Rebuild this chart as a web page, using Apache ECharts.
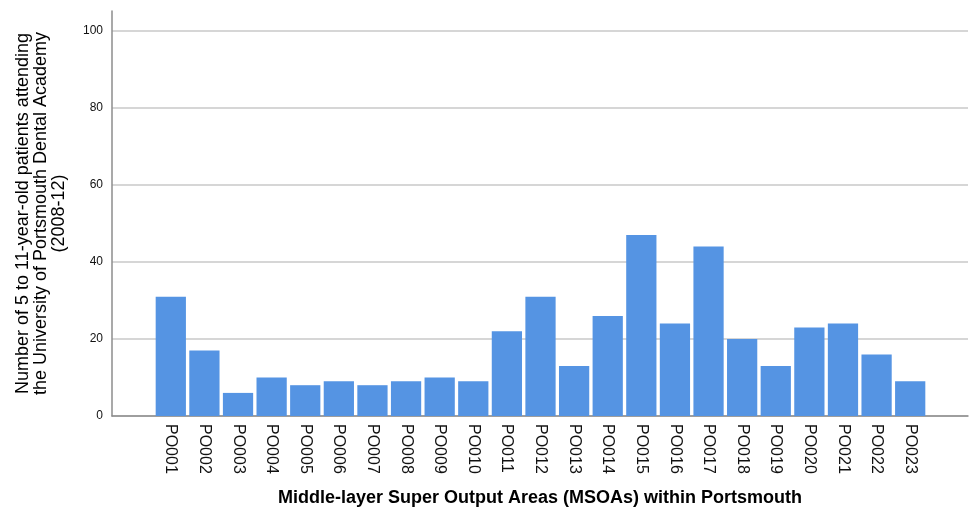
<!DOCTYPE html>
<html>
<head>
<meta charset="utf-8">
<script src="https://cdn.jsdelivr.net/npm/echarts@6/dist/echarts.min.js"></script>
<style>
  html, body { margin: 0; padding: 0; background: #fff; }
  #chart { width: 972px; height: 509px; }
</style>
</head>
<body>
<div id="chart"></div>
<script>
const categories = ['PO001', 'PO002', 'PO003', 'PO004', 'PO005', 'PO006', 'PO007', 'PO008',
  'PO009', 'PO010', 'PO011', 'PO012', 'PO013', 'PO014', 'PO015', 'PO016', 'PO017', 'PO018',
  'PO019', 'PO020', 'PO021', 'PO022', 'PO023'];
const patients = [31, 17, 6, 10, 8, 9, 8, 9, 10, 9, 22, 31, 13, 26, 47, 24, 44, 20, 13, 23, 24, 16, 9];
const yTicks = [0, 20, 40, 60, 80, 100];

const font = 'Liberation Sans, Arial, sans-serif';
const chart = echarts.init(document.getElementById('chart'));

chart.setOption({
  animation: false,
  textStyle: { fontFamily: font },
  grid: [
    // gridlines and tick labels, 0..100
    { left: 112, right: 4, top: 31, bottom: 93, outerBoundsMode: 'none' },
    // axis frame (left line reaches above 100)
    { left: 112, right: 4, top: 11, bottom: 93, outerBoundsMode: 'none' },
    // bars, inset from the frame
    { left: 154, right: 45, top: 31, bottom: 93, outerBoundsMode: 'none' },
  ],
  xAxis: [
    { gridIndex: 0, type: 'value', show: false, min: 0, max: 1 },
    {
      gridIndex: 1, type: 'value', min: 0, max: 1,
      axisLine: { show: true, lineStyle: { color: '#8c8c8c', width: 1.5 } },
      axisTick: { show: false }, axisLabel: { show: false }, splitLine: { show: false },
      name: 'Middle-layer Super Output Areas (MSOAs) within Portsmouth',
      nameLocation: 'middle', nameGap: 73,
      nameTextStyle: { fontSize: 18, fontWeight: 'bold', color: '#000', fontFamily: font },
    },
    {
      gridIndex: 2, type: 'category', data: categories,
      axisLine: { show: false }, axisTick: { show: false },
      axisLabel: { rotate: -90, fontSize: 16, color: '#111', margin: 8, fontFamily: font },
    },
  ],
  yAxis: [
    {
      gridIndex: 0, type: 'value', min: 0, max: 100, interval: 20,
      axisLine: { show: false }, axisTick: { show: false },
      axisLabel: {
        fontSize: 12, color: '#111', margin: 9, fontFamily: font,
        formatter: v => (yTicks.includes(v) ? String(v) : ''),
      },
      splitLine: { show: true, lineStyle: { color: '#c8c8c8', width: 1.5 } },
    },
    {
      gridIndex: 1, type: 'value', min: 0, max: 1,
      axisLine: { show: true, lineStyle: { color: '#8c8c8c', width: 1.5 } },
      axisTick: { show: false }, axisLabel: { show: false }, splitLine: { show: false },
      name: 'Number of 5 to 11-year-old patients attending\nthe University of Portsmouth Dental Academy\n(2008-12)',
      nameLocation: 'middle', nameRotate: 90, nameGap: 44,
      nameTextStyle: { fontSize: 18, color: '#000', lineHeight: 18, align: 'center', fontFamily: font },
    },
    { gridIndex: 2, type: 'value', min: 0, max: 100, show: false },
  ],
  series: [{
    type: 'bar',
    xAxisIndex: 2,
    yAxisIndex: 2,
    data: patients,
    barCategoryGap: '10%',
    itemStyle: { color: '#5594e3' },
  }],
});
</script>
</body>
</html>
